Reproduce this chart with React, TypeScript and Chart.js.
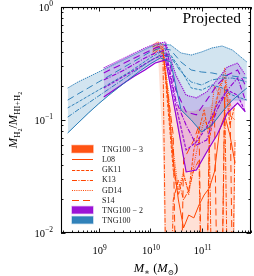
import React, { useEffect, useRef } from 'react';
import { Chart, registerables } from 'chart.js';
Chart.register(...registerables);

// value used for bins where the fraction is zero (falls below the axis)
const ZERO = 1e-4;

// ---------- TNG100 ----------
const logMassTNG100 = [8.4, 8.6, 8.8, 9.0, 9.2, 9.4, 9.6, 9.8, 10.0, 10.2, 10.4, 10.6, 10.8, 11.0, 11.2, 11.4, 11.6, 11.88];
const tng100_L08 = [0.0767, 0.094, 0.115, 0.139, 0.166, 0.196, 0.231, 0.271, 0.313, 0.354, 0.326, 0.123, 0.1, 0.0783, 0.09, 0.118, 0.15, 0.192];
const tng100_GK11 = [0.128, 0.144, 0.163, 0.184, 0.208, 0.235, 0.266, 0.307, 0.354, 0.4, 0.376, 0.277, 0.192, 0.184, 0.204, 0.192, 0.166, 0.15];
const tng100_K13 = [0.106, 0.123, 0.141, 0.163, 0.188, 0.217, 0.25, 0.289, 0.333, 0.376, 0.361, 0.266, 0.217, 0.204, 0.226, 0.235, 0.235, 0.217];
const tng100_GD14 = [0.192, 0.217, 0.24, 0.266, 0.294, 0.326, 0.361, 0.4, 0.443, 0.471, 0.461, 0.392, 0.376, 0.4, 0.434, 0.452, 0.416, 0.326];
const tng100_S14 = [0.15, 0.17, 0.192, 0.217, 0.245, 0.277, 0.313, 0.354, 0.4, 0.434, 0.416, 0.326, 0.277, 0.266, 0.261, 0.25, 0.245, 0.235];
const tng100_bandLo = [0.0767, 0.094, 0.115, 0.139, 0.166, 0.196, 0.231, 0.271, 0.313, 0.354, 0.326, 0.123, 0.1, 0.0783, 0.09, 0.118, 0.15, 0.15];
const tng100_bandHi = [0.192, 0.217, 0.24, 0.266, 0.294, 0.326, 0.361, 0.4, 0.443, 0.471, 0.461, 0.392, 0.376, 0.4, 0.434, 0.452, 0.416, 0.326];

// ---------- TNG100-2 ----------
const logMassTNG100_2 = [9.1, 9.3, 9.5, 9.7, 9.9, 10.1, 10.3, 10.5, 10.7, 10.9, 11.1, 11.3, 11.5, 11.7, 11.85];
const tng100_2_L08 = [0.16, 0.184, 0.213, 0.245, 0.277, 0.319, 0.34, 0.111, 0.0347, 0.0361, 0.0521, 0.0737, 0.115, 0.141, 0.118];
const tng100_2_GK11 = [0.192, 0.217, 0.245, 0.277, 0.313, 0.354, 0.376, 0.136, 0.0543, 0.0639, 0.0867, 0.136, 0.184, 0.166, 0.118];
const tng100_2_K13 = [0.226, 0.25, 0.277, 0.313, 0.354, 0.392, 0.416, 0.15, 0.09, 0.06, 0.0665, 0.123, 0.184, 0.235, 0.15];
const tng100_2_GD14 = [0.289, 0.319, 0.354, 0.392, 0.434, 0.471, 0.49, 0.25, 0.166, 0.157, 0.177, 0.226, 0.294, 0.319, 0.25];
const tng100_2_S14 = [0.261, 0.289, 0.319, 0.354, 0.392, 0.434, 0.461, 0.184, 0.118, 0.111, 0.15, 0.204, 0.25, 0.277, 0.204];
const tng100_2_bandLo = [0.16, 0.184, 0.213, 0.245, 0.277, 0.319, 0.34, 0.111, 0.0347, 0.0361, 0.0521, 0.0737, 0.115, 0.141, 0.118];
const tng100_2_bandHi = [0.289, 0.319, 0.354, 0.392, 0.434, 0.471, 0.49, 0.25, 0.166, 0.157, 0.177, 0.226, 0.294, 0.319, 0.25];

// ---------- TNG100-3 ----------
const logMassTNG100_3 = [10.05, 10.15, 10.25, 10.35, 10.45, 10.55, 10.65, 10.75, 10.85, 10.95, 11.05, 11.15, 11.25, 11.35, 11.45, 11.55, 11.65];
const tng100_3_L08 = [0.416, 0.452, 0.416, 0.15, 0.0443, 0.0196, 0.0111, 0.0144, 0.0136, 0.0177, 0.0217, 0.025, 0.0347, 0.0816, 0.11, 0.0737, 0.0416];
const tng100_3_GK11 = [0.443, 0.471, 0.434, 0.123, 0.0361, 0.0217, 0.0326, 0.0231, 0.0543, 0.0816, 0.123, 0.0665, 0.12, 0.2, 0.24, 0.09, 0.136];
const tng100_3_K13 = [0.4, 0.434, 0.376, ZERO, 0.0196, 0.0294, 0.0196, 0.024, 0.0361, 0.0443, ZERO, 0.0665, ZERO, ZERO, 0.16, ZERO, 0.0665];
const tng100_3_GD14 = [0.461, 0.49, 0.461, 0.184, 0.0543, 0.024, 0.0347, 0.0217, 0.04, 0.0665, 0.1, 0.0816, 0.2, 0.166, 0.29, 0.111, 0.1];
const tng100_3_S14 = [0.376, 0.416, 0.4, 0.166, 0.0737, ZERO, 0.0443, 0.0543, 0.0665, 0.09, ZERO, 0.0816, 0.123, ZERO, 0.2, 0.166, ZERO];
const tng100_3_bandLo = [0.376, 0.416, 0.05, ZERO, ZERO, ZERO, ZERO, ZERO, ZERO, ZERO, ZERO, ZERO, ZERO, ZERO, ZERO, ZERO, ZERO];
const tng100_3_bandHi = [0.47, 0.5, 0.47, 0.2, 0.14, 0.13, 0.125, 0.12, 0.12, 0.125, 0.13, 0.13, 0.15, 0.18, 0.2, 0.14, 0.125];

// ---------- axes ----------
const xLogMin = 8.27;
const xLogMax = 11.96;
const yMin = 0.01;
const yMax = 1;
const xMajorExps = [9, 10, 11];
const yMajorExps = [-2, -1, 0];

const legendLabels = ['TNG100 − 3', 'L08', 'GK11', 'K13', 'GD14', 'S14', 'TNG100 − 2', 'TNG100'];
const panelLabel = 'Projected';

const ORANGE = '#FF4500';
const PURPLE = '#9400D3';
const BLUE = '#1f77b4';

const DASH: Record<string, number[]> = {
  L08: [],
  GK11: [3.2, 1.4],
  K13: [5, 1.4, 1.1, 1.4],
  GD14: [1, 1.2],
  S14: [7, 4],
};

const FONT = '"Liberation Serif", "DejaVu Serif", serif';

function pts(logM: number[], vals: number[]) {
  return logM.map((l, i) => ({ x: Math.pow(10, l), y: vals[i] }));
}

type Run = { t: string; size: number; dy: number; italic?: boolean };

function runFont(r: Run) {
  return `${r.italic ? 'italic ' : ''}${r.size}px ${FONT}`;
}
function runsWidth(ctx: CanvasRenderingContext2D, runs: Run[]) {
  let w = 0;
  for (const r of runs) {
    ctx.font = runFont(r);
    w += ctx.measureText(r.t).width;
  }
  return w;
}
function drawRuns(ctx: CanvasRenderingContext2D, runs: Run[], x: number, y: number) {
  let cx = x;
  ctx.textBaseline = 'alphabetic';
  ctx.textAlign = 'left';
  for (const r of runs) {
    ctx.font = runFont(r);
    ctx.fillText(r.t, cx, y + r.dy);
    cx += ctx.measureText(r.t).width;
  }
}

function supExp(e: number) {
  return e < 0 ? '−' + String(-e) : String(e);
}

const decoPlugin = {
  id: 'deco',
  afterDraw(chart: any) {
    const { ctx, chartArea: a, scales } = chart;
    const xs = scales.x;
    const ys = scales.y;
    ctx.save();
    ctx.fillStyle = '#000';
    ctx.strokeStyle = '#000';

    // frame
    ctx.lineWidth = 1.1;
    ctx.strokeRect(a.left + 0.5, a.top + 0.5, a.right - a.left - 1, a.bottom - a.top - 1);

    // ticks
    ctx.lineWidth = 0.9;
    const tick = (x1: number, y1: number, x2: number, y2: number) => {
      ctx.beginPath();
      ctx.moveTo(x1, y1);
      ctx.lineTo(x2, y2);
      ctx.stroke();
    };
    for (let k = 8; k <= 11; k++) {
      for (let m = 1; m <= 9; m++) {
        const v = m * Math.pow(10, k);
        if (v < Math.pow(10, xLogMin) || v > Math.pow(10, xLogMax)) continue;
        const px = Math.round(xs.getPixelForValue(v)) + 0.5;
        const len = m === 1 ? 4.5 : 2.5;
        tick(px, a.bottom, px, a.bottom - len);
        tick(px, a.top, px, a.top + len);
      }
    }
    for (let k = -2; k <= 0; k++) {
      for (let m = 1; m <= 9; m++) {
        const v = m * Math.pow(10, k);
        if (v < yMin || v > yMax) continue;
        const py = Math.round(ys.getPixelForValue(v)) + 0.5;
        const len = m === 1 ? 4.5 : 2.5;
        tick(a.left, py, a.left + len, py);
        tick(a.right, py, a.right - len, py);
      }
    }

    // tick labels
    for (const e of xMajorExps) {
      const px = xs.getPixelForValue(Math.pow(10, e));
      const runs: Run[] = [
        { t: '10', size: 10.5, dy: 0 },
        { t: supExp(e), size: 7.5, dy: -4.5 },
      ];
      const w = runsWidth(ctx, runs);
      drawRuns(ctx, runs, px - w / 2 + 1, a.bottom + 21);
    }
    for (const e of yMajorExps) {
      const py = ys.getPixelForValue(Math.pow(10, e));
      const runs: Run[] = [
        { t: '10', size: 10.5, dy: 0 },
        { t: supExp(e), size: 7.5, dy: -4.5 },
      ];
      const w = runsWidth(ctx, runs);
      drawRuns(ctx, runs, a.left - 8 - w, py + 3.5);
    }

    // x title
    {
      const runs: Run[] = [
        { t: 'M', size: 12.5, dy: 0, italic: true },
        { t: '∗', size: 8.5, dy: 2.5 },
        { t: ' (', size: 12.5, dy: 0 },
        { t: 'M', size: 12.5, dy: 0, italic: true },
        { t: '⊙', size: 7.5, dy: 2.5 },
        { t: ')', size: 12.5, dy: 0 },
      ];
      const w = runsWidth(ctx, runs);
      drawRuns(ctx, runs, (a.left + a.right) / 2 - w / 2, 272);
    }
    // y title
    {
      const runs: Run[] = [
        { t: 'M', size: 12.5, dy: 0, italic: true },
        { t: 'H', size: 8.5, dy: 2.5 },
        { t: '2', size: 6, dy: 4.5 },
        { t: '/', size: 12.5, dy: 0 },
        { t: 'M', size: 12.5, dy: 0, italic: true },
        { t: 'HI+H', size: 8.5, dy: 2.5 },
        { t: '2', size: 6, dy: 4.5 },
      ];
      ctx.save();
      ctx.translate(17, (a.top + a.bottom) / 2);
      ctx.rotate(-Math.PI / 2);
      const w = runsWidth(ctx, runs);
      drawRuns(ctx, runs, -w / 2, 0);
      ctx.restore();
    }

    // panel label
    ctx.font = `15.5px ${FONT}`;
    ctx.textAlign = 'right';
    ctx.textBaseline = 'alphabetic';
    ctx.fillText(panelLabel, a.right - 10, a.top + 16);

    // legend
    const rows = [149, 159.3, 169.5, 179.7, 190, 200, 210, 220];
    const x0 = 72;
    const x1 = 93;
    const kinds: { type: 'patch' | 'line'; color: string; edge?: string; dash?: number[] }[] = [
      { type: 'patch', color: ORANGE, edge: 'rgba(255,69,0,0.55)' },
      { type: 'line', color: ORANGE, dash: DASH.L08 },
      { type: 'line', color: ORANGE, dash: DASH.GK11 },
      { type: 'line', color: ORANGE, dash: DASH.K13 },
      { type: 'line', color: ORANGE, dash: DASH.GD14 },
      { type: 'line', color: ORANGE, dash: DASH.S14 },
      { type: 'patch', color: PURPLE, edge: 'rgba(148,0,211,0.35)' },
      { type: 'patch', color: BLUE, edge: 'rgba(31,119,180,0.35)' },
    ];
    kinds.forEach((k, i) => {
      const yc = rows[i];
      if (k.type === 'patch') {
        ctx.fillStyle = k.color;
        ctx.globalAlpha = 0.92;
        ctx.fillRect(x0, yc - 3.5, x1 - x0, 7);
        ctx.globalAlpha = 1;
        ctx.strokeStyle = k.edge!;
        ctx.lineWidth = 1.4;
        ctx.setLineDash([]);
        ctx.strokeRect(x0, yc - 3.5, x1 - x0, 7);
      } else {
        ctx.strokeStyle = k.color;
        ctx.lineWidth = 1;
        ctx.setLineDash(k.dash!);
        ctx.beginPath();
        ctx.moveTo(x0, Math.round(yc) + 0.5);
        ctx.lineTo(x1, Math.round(yc) + 0.5);
        ctx.stroke();
        ctx.setLineDash([]);
      }
      ctx.fillStyle = '#222';
      ctx.font = `8px ${FONT}`;
      ctx.textAlign = 'left';
      ctx.textBaseline = 'middle';
      ctx.fillText(legendLabels[i], 102, yc + 0.5);
    });

    ctx.restore();
  },
};

function lineDs(logM: number[], vals: number[], color: string, dash: number[], width = 1) {
  return {
    data: pts(logM, vals),
    borderColor: color,
    borderWidth: width,
    borderDash: dash,
    pointRadius: 0,
    fill: false,
    tension: 0,
  };
}

function bandDs(logM: number[], lo: number[], hi: number[], fillColor: string, edge: string, edgeWidth: number) {
  return [
    {
      data: pts(logM, lo),
      borderColor: edge,
      borderWidth: edgeWidth,
      pointRadius: 0,
      fill: false,
      tension: 0,
    },
    {
      data: pts(logM, hi),
      borderColor: edge,
      borderWidth: edgeWidth,
      pointRadius: 0,
      fill: '-1',
      backgroundColor: fillColor,
      tension: 0,
    },
  ];
}

export default function App() {
  const ref = useRef<HTMLCanvasElement | null>(null);
  useEffect(() => {
    if (!ref.current) return;
    const blueLine = 'rgba(31,119,180,0.9)';
    const datasets: any[] = [
      // TNG100 (top)
      lineDs(logMassTNG100, tng100_L08, blueLine, DASH.L08),
      lineDs(logMassTNG100, tng100_GK11, blueLine, DASH.GK11),
      lineDs(logMassTNG100, tng100_K13, blueLine, DASH.K13),
      lineDs(logMassTNG100, tng100_GD14, blueLine, DASH.GD14),
      lineDs(logMassTNG100, tng100_S14, blueLine, DASH.S14),
      ...bandDs(logMassTNG100, tng100_bandLo, tng100_bandHi, 'rgba(31,119,180,0.2)', 'rgba(31,119,180,0.35)', 0.7),
      // TNG100-2
      lineDs(logMassTNG100_2, tng100_2_L08, PURPLE, DASH.L08, 1.1),
      lineDs(logMassTNG100_2, tng100_2_GK11, PURPLE, DASH.GK11, 1.1),
      lineDs(logMassTNG100_2, tng100_2_K13, PURPLE, DASH.K13, 1.1),
      lineDs(logMassTNG100_2, tng100_2_GD14, PURPLE, DASH.GD14, 1.1),
      lineDs(logMassTNG100_2, tng100_2_S14, PURPLE, DASH.S14, 1.1),
      ...bandDs(logMassTNG100_2, tng100_2_bandLo, tng100_2_bandHi, 'rgba(148,0,211,0.18)', 'rgba(148,0,211,0.3)', 0.7),
      // TNG100-3 (bottom)
      lineDs(logMassTNG100_3, tng100_3_L08, ORANGE, DASH.L08),
      lineDs(logMassTNG100_3, tng100_3_GK11, ORANGE, DASH.GK11),
      lineDs(logMassTNG100_3, tng100_3_K13, ORANGE, DASH.K13),
      lineDs(logMassTNG100_3, tng100_3_GD14, ORANGE, DASH.GD14),
      lineDs(logMassTNG100_3, tng100_3_S14, ORANGE, DASH.S14),
      ...bandDs(logMassTNG100_3, tng100_3_bandLo, tng100_3_bandHi, 'rgba(255,69,0,0.16)', 'rgba(255,69,0,0)', 0),
    ];
    const chart = new Chart(ref.current, {
      type: 'line',
      data: { datasets },
      options: {
        animation: false,
        responsive: false,
        devicePixelRatio: 1,
        parsing: false as any,
        normalized: true,
        layout: { padding: { left: 61, top: 7, right: 3, bottom: 43 } },
        scales: {
          x: { type: 'logarithmic', min: Math.pow(10, xLogMin), max: Math.pow(10, xLogMax), display: false },
          y: { type: 'logarithmic', min: yMin, max: yMax, display: false },
        },
        plugins: {
          legend: { display: false },
          tooltip: { enabled: false },
          filler: { drawTime: 'beforeDatasetsDraw' } as any,
        },
      },
      plugins: [decoPlugin],
    });
    return () => chart.destroy();
  }, []);
  return (
    <div style={{ position: 'fixed', left: 0, top: 0, width: 254, height: 276, background: '#fff' }}>
      <canvas ref={ref} width={254} height={276} style={{ display: 'block', width: 254, height: 276 }} />
    </div>
  );
}
